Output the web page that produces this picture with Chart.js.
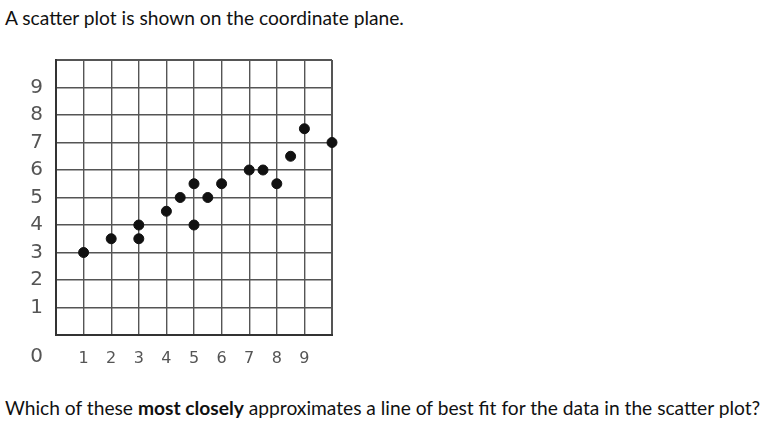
<!DOCTYPE html>
<html>
<head>
<meta charset="utf-8">
<script src="https://cdn.jsdelivr.net/npm/chart.js@4/dist/chart.umd.min.js"></script>
<style>
  html, body { margin: 0; padding: 0; background: #fff; }
  body { width: 784px; height: 421px; position: relative; overflow: hidden; font-family: Lato, "Open Sans", sans-serif; color: #111; }
  #question { position: absolute; left: 5px; top: 6px; font-size: 19.2px; white-space: nowrap; }
  #prompt { position: absolute; left: 5px; top: 396px; font-size: 19.2px; white-space: nowrap; }
  #plotBox { position: absolute; left: 0; top: 50px; width: 340px; height: 325px; }
</style>
</head>
<body>
<div id="question">A scatter plot is shown on the coordinate plane.</div>
<div id="plotBox"><canvas id="plot"></canvas></div>
<div id="prompt">Which of these <b>most closely</b> approximates a line of best fit for the data in the scatter plot?</div>
<script>
// points
const xValues = [1, 2, 3, 3, 4, 4.5, 5, 5, 5.5, 6, 7, 7.5, 8, 8.5, 9, 10];
const yValues = [3, 3.5, 3.5, 4, 4.5, 5, 5.5, 4, 5, 5.5, 6, 6, 5.5, 6.5, 7.5, 7];
const xTickLabels = ['1', '2', '3', '4', '5', '6', '7', '8', '9'];
const yTickLabels = ['1', '2', '3', '4', '5', '6', '7', '8', '9'];
const originLabel = '0';

const labelColor = '#555';
const gridColor = '#555';
const tickFamily = '"DejaVu Sans", Verdana, sans-serif';
const xFont = { family: tickFamily, size: 16 };
const yFont = { family: tickFamily, size: 20 };
const xPad = 14;
const yPad = 13;

function tickText(list) {
  return function(value) {
    const s = String(value);
    return list.includes(s) ? s : '';
  };
}

function edgeWidth(c) {
  return (c.tick && (c.tick.value === 0 || c.tick.value === 10)) ? 2 : 1.4;
}

// the lone "0" sits under the y labels, on the x label row
const originPlugin = {
  id: 'originLabel',
  afterDraw(chart) {
    const ctx = chart.ctx;
    const xs = chart.scales.x;
    const ys = chart.scales.y;
    ctx.save();
    ctx.font = yFont.size + 'px ' + yFont.family;
    ctx.fillStyle = labelColor;
    ctx.textAlign = 'right';
    ctx.textBaseline = 'middle';
    ctx.fillText(originLabel, ys.right - yPad, xs.top + xPad + xFont.size / 2);
    ctx.restore();
  }
};

const points = xValues.map((x, i) => ({ x: x, y: yValues[i] }));

new Chart(document.getElementById('plot'), {
  type: 'scatter',
  data: {
    datasets: [{
      data: points,
      backgroundColor: '#111',
      borderColor: '#111',
      pointRadius: 5,
      pointHoverRadius: 5,
      clip: false
    }]
  },
  options: {
    responsive: true,
    maintainAspectRatio: false,
    animation: false,
    layout: { padding: { top: 10, right: 8, left: 0, bottom: 0 } },
    plugins: { legend: { display: false }, tooltip: { enabled: false } },
    scales: {
      x: {
        type: 'linear',
        min: 0,
        max: 10,
        afterFit(scale) {
          scale.height = 40;
          scale.paddingLeft = 0;
          scale.paddingRight = 0;
        },
        grid: { color: gridColor, lineWidth: edgeWidth, drawTicks: false },
        border: { display: true, color: '#333', width: 2 },
        ticks: {
          stepSize: 1,
          autoSkip: false,
          maxRotation: 0,
          padding: xPad,
          color: labelColor,
          font: xFont,
          callback: tickText(xTickLabels)
        }
      },
      y: {
        type: 'linear',
        min: 0,
        max: 10,
        afterFit(scale) {
          scale.width = 56;
          scale.paddingTop = 0;
          scale.paddingBottom = 0;
        },
        grid: { color: gridColor, lineWidth: edgeWidth, drawTicks: false },
        border: { display: true, color: '#333', width: 2 },
        ticks: {
          stepSize: 1,
          autoSkip: false,
          padding: yPad,
          color: labelColor,
          font: yFont,
          callback: tickText(yTickLabels)
        }
      }
    }
  },
  plugins: [originPlugin]
});
</script>
</body>
</html>
